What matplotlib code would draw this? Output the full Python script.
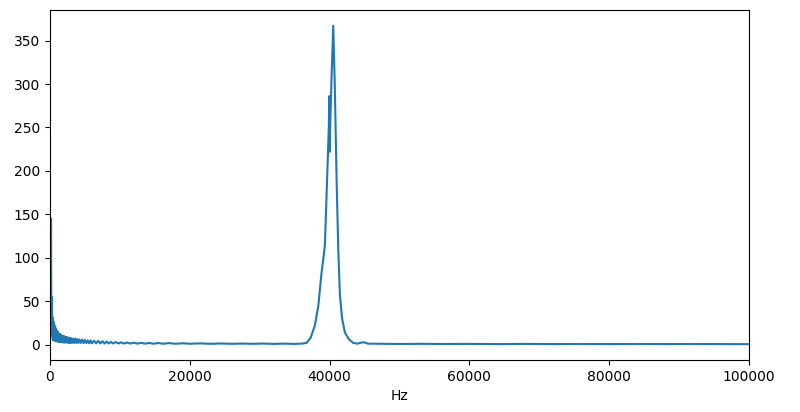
import matplotlib.pyplot as plt

# spectrum values
freq_hz = [0, 80, 150, 200, 250, 300, 350, 400, 450, 500, 550, 600, 650,
           700, 750, 800, 850, 900, 950, 1000, 1050, 1100, 1150, 1200,
           1250, 1300, 1350, 1400, 1450, 1500, 1600, 1700, 1800, 1900, 2000,
           2100, 2200, 2300, 2400, 2500, 2600, 2700, 2800, 2900, 3000, 3150,
           3300, 3450, 3600, 3750, 3900, 4050, 4200, 4400, 4600, 4800, 5000,
           5200, 5400, 5600, 5800, 6000, 6300, 6600, 6900, 7200, 7500, 7800,
           8100, 8400, 8700, 9000, 9400, 9800, 10200, 10600, 11000, 11500,
           12000, 12500, 13000, 13600, 14200, 14800, 15500, 16200, 17000,
           18000, 19000, 20000, 21500, 23000, 24500, 26000, 27500, 29000,
           30500, 32000, 33500, 35000, 36000,
           36700, 37300, 37900, 38400, 38860, 39100, 39340, 39680,
           39900, 39960, 40020, 40060, 40300, 40530, 40750, 41010, 41250,
           41490, 41800, 42200, 42800, 43390, 44000, 44600, 44900, 45500,
           47000, 50000, 53000, 56000, 60000, 64000, 68000, 72000, 76000,
           80000, 84000, 88000, 92000, 96000, 100000]
magnitude = [12, 40, 145, 10, 55, 12, 32, 6, 28, 5, 25, 6, 22,
             5, 20, 4, 18, 5, 16, 4, 15, 4, 14, 3,
             13, 4, 12, 3, 12, 3, 11, 3, 10, 2.5, 10,
             2.5, 9, 2.5, 9, 2.5, 8, 2, 8, 2, 7.5, 2,
             7, 2, 7, 2, 6.5, 2, 6, 2, 6, 1.8, 5.5,
             1.8, 5, 1.6, 5, 1.6, 4.5, 1.5, 4.5, 1.4, 4, 1.3,
             3.6, 1.4, 3.2, 1.4, 3, 1.4, 2.7, 1.3, 2.5, 1.3,
             2.3, 1.2, 2.1, 1.2, 2, 1.1, 1.9, 1.1, 1.8,
             1.1, 1.6, 1.1, 1.5, 1, 1.4, 1, 1.3, 1,
             1.3, 0.9, 1.2, 0.9, 1.2,
             2, 8, 22, 45, 83, 98, 115, 199,
             250, 286, 222, 240, 310, 367, 300, 191, 110,
             57, 30, 14, 6, 2, 1.2, 2.5, 2.8, 1.2,
             1.1, 0.8, 1, 0.8, 0.9, 0.7, 0.9, 0.7, 0.8,
             0.7, 0.8, 0.7, 0.8, 0.7, 0.6]

fig, ax = plt.subplots(figsize=(8, 4.12), dpi=100)
plt.subplots_adjust(left=0.0625, right=0.936, top=0.976, bottom=0.126)
ax.plot(freq_hz, magnitude)
ax.set_xlim(0, 100000)
ax.set_xlabel("Hz")
plt.savefig("out.png")
